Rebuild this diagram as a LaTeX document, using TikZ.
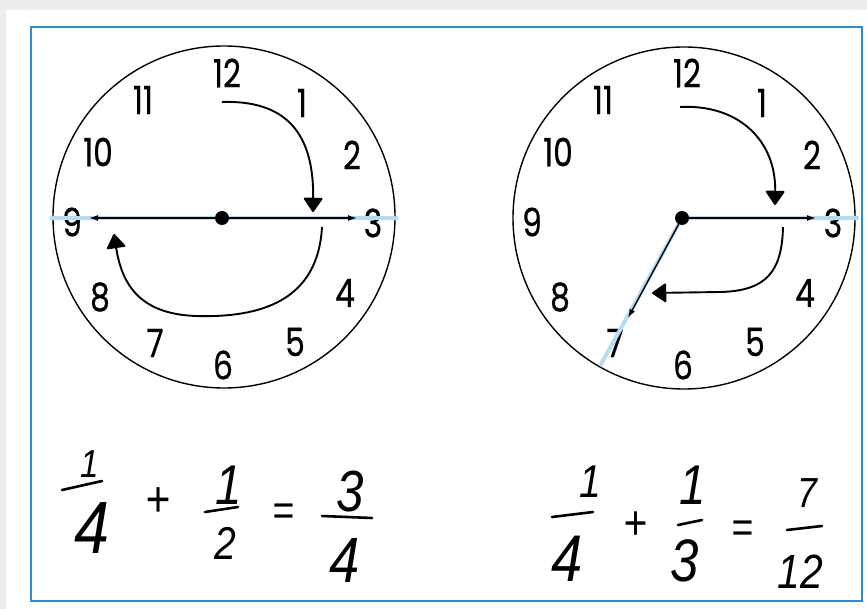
\documentclass[tikz,border=0pt]{standalone}
\usepackage{fontspec}
\setmainfont{Poppins}
\newfontfamily\dialfont[FakeStretch=0.8,FakeBold=0.6]{Poppins}
\newfontfamily\handfont[FakeStretch=0.85]{Liberation Sans}
\usetikzlibrary{arrows.meta}
\definecolor{frameblue}{HTML}{2C8BD0}
\definecolor{handblue}{HTML}{B3DDF3}
\begin{document}
\begin{tikzpicture}[x=1pt,y=-1pt,
  num/.style={font=\dialfont\fontsize{39}{39}\selectfont, inner sep=0},
  dial/.style={circle, draw, line width=1.4, minimum size=342, inner sep=0},
  hand/.style={line width=1.4, -{Latex[length=9,width=6]}},
  bluehand/.style={handblue, line width=4},
  turn/.style={line width=1.9, -{Triangle[length=15,width=20,round]}},
  pivot/.style={circle, fill, minimum size=14, inner sep=0},
  eq/.style={font=\handfont\itshape\fontsize{#1}{#1}\selectfont, inner sep=0},
  bar/.style={line width=2.6, line cap=round}]
\useasboundingbox (0,0) rectangle (867,609);
\fill[gray!14] (0,0) rectangle (867,609);
\fill[white] (6,10) rectangle (867,609);
\draw[frameblue, line width=2] (31,27) rectangle (862,601);

% ---------- left clock ----------
\node[dial] (clockL) at (224,217) {};
\foreach \h/\x/\y in {12/227/73, 1/302/103, 2/352/155, 3/373/223, 4/345/293, 5/295/342,
                      6/223/365, 7/155/343, 8/100/297, 9/72/222, 10/98/152, 11/143/100}
  {\node[num] (L\h) at (\x,\y) {\h};}
\draw[bluehand] ([xshift=-2]clockL.west |- 0,218) -- ([xshift=2]clockL.east |- 0,218);
\node[pivot] (cL) at (222,218) {};
\coordinate (L3tip) at (357,218);
\coordinate (L9tip) at (89,218);
\draw[hand] (cL) -- (L3tip);
\draw[hand] (cL) -- (L9tip);
\coordinate (La1) at (222,102);
\coordinate (La2) at (313,212);
\coordinate (Lb1) at (322,227);
\coordinate (Lb2) at (114,234);
\draw[turn] (La1) .. controls (285,100) and (314,132) .. (La2);
\draw[turn] (Lb1) .. controls (318,300) and (262,318) .. (196,316)
             .. controls (140,314) and (122,285) .. (Lb2);

% ---------- right clock ----------
\node[dial] (clockR) at (684,218) {};
\foreach \h/\x/\y in {12/227/73, 1/302/103, 2/352/155, 3/373/223, 4/345/293, 5/295/342,
                      6/223/365, 7/155/343, 8/100/297, 9/72/222, 10/98/152, 11/143/100}
  {\node[num] (R\h) at (\x+460,\y) {\h};}
\coordinate (cRc) at (682,218);
\coordinate (R7edge) at (600,366);
\draw[bluehand] (cRc) -- ([xshift=3]clockR.east |- 0,218);
\draw[bluehand] (cRc) -- (R7edge);
\node[pivot] (cR) at (cRc) {};
\coordinate (R3tip) at (816,218);
\coordinate (R7tip) at (628,318);
\draw[hand] (cR) -- (R3tip);
\draw[hand] (cR) -- (R7tip);
\coordinate (Ra1) at (680,107);
\coordinate (Ra2) at (775,205);
\coordinate (Rb1) at (783,227);
\coordinate (Rb2) at (652,293);
\draw[turn] (Ra1) .. controls (738,104) and (776,140) .. (Ra2);
\draw[turn] (Rb1) .. controls (782,272) and (766,291) .. (720,292) -- (Rb2);

% ---------- left equation ----------
\node[eq=39] (a1n) at (90,464) {1};
\draw[bar] (62,490) -- (102,481);
\node[eq=74] (a1d) at (92,528) {4};
\node[eq=50] (aplus) at (158,502) {+};
\node[eq=56] (a2n) at (229,485) {1};
\draw[bar] (205,512) -- (238,507);
\node[eq=46] (a2d) at (225,543) {2};
\node[eq=44] (aeq) at (283,515) {=};
\node[eq=58] (a3n) at (350,492) {3};
\draw[bar] (322,516) -- (372,518);
\node[eq=64] (a3d) at (345,560) {4};

% ---------- right equation ----------
\node[eq=46] (b1n) at (590,482) {1};
\draw[bar] (552,517) -- (593,512);
\node[eq=66] (b1d) at (567,559) {4};
\node[eq=48] (bplus) at (635,526) {+};
\node[eq=56] (b2n) at (693,485) {1};
\draw[bar] (678,525) -- (702,520);
\node[eq=60] (b2d) at (685,561) {3};
\node[eq=44] (beq) at (742,532) {=};
\node[eq=42] (b3n) at (807,493) {7};
\draw[bar] (787,530) -- (822,526);
\node[eq=48] (b3d) at (800,572) {12};
\end{tikzpicture}
\end{document}
